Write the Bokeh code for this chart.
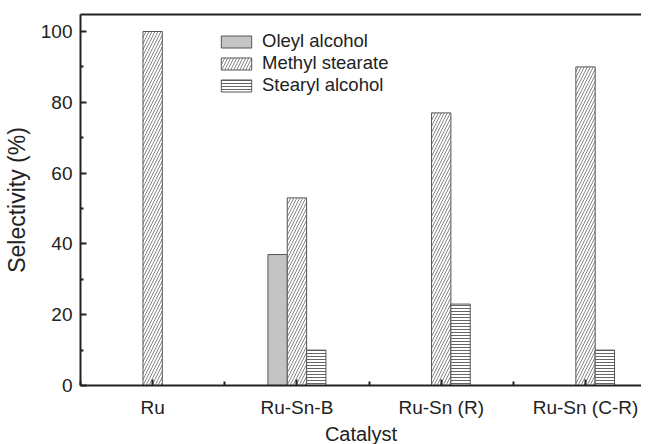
from bokeh.plotting import figure
from bokeh.models import ColumnDataSource, FixedTicker, LinearAxis, Range1d, Legend, LegendItem, Title
from bokeh.embed import file_html
from bokeh.resources import INLINE

categories = ["Ru", "Ru-Sn-B", "Ru-Sn (R)", "Ru-Sn (C-R)"]
cat_pos = [1, 2, 3, 4]
oleyl_alcohol = [0, 37, 0, 0]
methyl_stearate = [100, 53, 77, 90]
stearyl_alcohol = [0, 10, 23, 10]
y_ticks = [0, 20, 40, 60, 80, 100]
y_minor = [10, 30, 50, 70, 90]
x_minor = [0.5, 1.5, 2.5, 3.5, 4.5]

W = 0.134
FONT = "Liberation Sans"
TXT = "#222222"

src = ColumnDataSource(dict(
    x_ol=[c - W for c in cat_pos], x_ms=list(cat_pos), x_sa=[c + W for c in cat_pos],
    ol=oleyl_alcohol, ms=methyl_stearate, sa=stearyl_alcohol))

p = figure(width=641, height=444, output_backend="svg", toolbar_location=None,
           x_range=Range1d(0.5, 4.388), y_range=Range1d(0, 104.8),
           min_border_left=72, min_border_right=0, min_border_top=14, min_border_bottom=57)
p.grid.visible = False
p.outline_line_color = None
p.background_fill_color = "white"
p.border_fill_color = "white"

r1 = p.vbar(x="x_ol", top="ol", bottom=0, width=W, source=src,
            fill_color="#c4c4c4", line_color="#555555", line_width=1)
r2 = p.vbar(x="x_ms", top="ms", bottom=0, width=W, source=src,
            fill_color="white", line_color="#555555", line_width=1,
            hatch_pattern="right_diagonal_line", hatch_color="#666666",
            hatch_scale=6, hatch_weight=0.8)
r3 = p.vbar(x="x_sa", top="sa", bottom=0, width=W, source=src,
            fill_color="white", line_color="#555555", line_width=1,
            hatch_pattern="horizontal_line", hatch_color="#666666",
            hatch_scale=3, hatch_weight=1)

legend = Legend(items=[LegendItem(label="Oleyl alcohol", renderers=[r1]),
                       LegendItem(label="Methyl stearate", renderers=[r2]),
                       LegendItem(label="Stearyl alcohol", renderers=[r3])],
                location=(137, 289), padding=0, margin=0, spacing=0,
                glyph_width=38, glyph_height=15, label_height=15, label_standoff=7,
                border_line_color=None, background_fill_alpha=0,
                label_text_font=FONT, label_text_font_size="18.5px", label_text_color=TXT)
p.add_layout(legend, "center")

# x axis
xa = p.xaxis[0]
xa.ticker = FixedTicker(ticks=cat_pos, minor_ticks=x_minor)
xa.major_label_overrides = {c: lab for c, lab in zip(cat_pos, categories)}
# y axis
ya = p.yaxis[0]
ya.ticker = FixedTicker(ticks=y_ticks, minor_ticks=y_minor)
ya.axis_label = "Selectivity (%)"

for ax in (xa, ya):
    ax.axis_line_width = 2
    ax.axis_line_color = TXT
    ax.major_tick_line_color = TXT
    ax.minor_tick_line_color = TXT
    ax.major_tick_line_width = 2
    ax.minor_tick_line_width = 2
    ax.major_tick_out = 0
    ax.minor_tick_out = 0
    ax.major_label_text_font = FONT
    ax.major_label_text_font_size = "19px"
    ax.major_label_text_color = TXT
    ax.axis_label_text_font = FONT
    ax.axis_label_text_font_style = "normal"
    ax.axis_label_text_color = TXT
xa.major_tick_in = 6
xa.minor_tick_in = 4
ya.major_tick_in = 6
ya.minor_tick_in = 3
xa.major_label_standoff = 11
ya.major_label_standoff = 8
ya.axis_label_text_font_size = "23px"
ya.axis_label_standoff = 8

xtitle = Title(text="Catalyst", align="center", standoff=0,
               text_font=FONT, text_font_size="20px", text_font_style="normal",
               text_color=TXT)
p.add_layout(xtitle, "below")

top = LinearAxis(ticker=FixedTicker(ticks=[]), major_tick_in=0, major_tick_out=0,
                 minor_tick_in=0, minor_tick_out=0, major_label_text_font_size="0px",
                 major_label_standoff=0, axis_line_width=2, axis_line_color=TXT)
p.add_layout(top, "above")

open("out.html", "w").write(file_html(p, INLINE))
